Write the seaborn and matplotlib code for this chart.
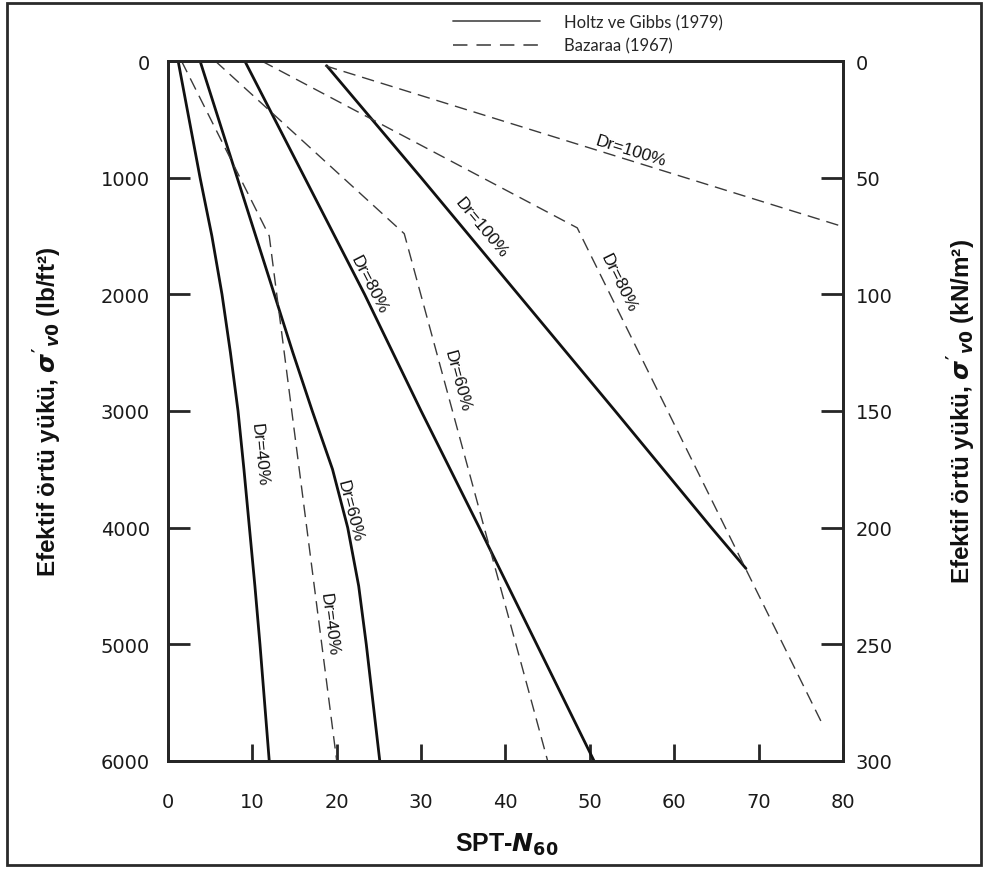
import numpy as np
import pandas as pd
import matplotlib
matplotlib.use("Agg")
import matplotlib.pyplot as plt
import seaborn as sns
from matplotlib.lines import Line2D
from matplotlib.patches import Rectangle

# ---------------- data ----------------
# Holtz & Gibbs (1979) - solid curves: effective stress (lb/ft2) vs SPT-N60
hg40_s = [0, 500, 1000, 1500, 2000, 2500, 3000, 3500, 4000, 4500, 5000, 5500, 6000]
hg40_n = [1.2, 2.5, 3.8, 5.2, 6.4, 7.4, 8.3, 9.0, 9.65, 10.3, 10.9, 11.45, 12.0]
hg60_s = [0, 1000, 2000, 2500, 3000, 3500, 4000, 4500, 5000, 5500, 6000]
hg60_n = [3.8, 8.2, 12.6, 14.8, 17.1, 19.5, 21.3, 22.6, 23.5, 24.3, 25.1]
hg80_s = [0, 1000, 2000, 3000, 4000, 5000, 6000]
hg80_n = [9.1, 16.2, 23.3, 30.0, 36.9, 43.7, 50.5]
hg100_s = [40, 1000, 2000, 3000, 4000, 4350]
hg100_n = [18.8, 30.0, 41.5, 53.0, 64.4, 68.5]

# Bazaraa (1967) - dashed curves
bz40_s = [0, 1500, 6000]
bz40_n = [1.6, 12.0, 20.0]
bz60_s = [0, 1480, 6000]
bz60_n = [5.6, 28.0, 45.0]
bz80_s = [0, 1430, 5690]
bz80_n = [11.1, 48.5, 77.6]
bz100_s = [40, 1420]
bz100_n = [18.6, 80.0]

curve_names = ["HG40", "HG60", "HG80", "HG100", "BZ40", "BZ60", "BZ80", "BZ100"]
curve_source = ["Holtz ve Gibbs (1979)"] * 4 + ["Bazaraa (1967)"] * 4
curve_labels = ["Dr=40%", "Dr=60%", "Dr=80%", "Dr=100%"] * 2
curve_s = [hg40_s, hg60_s, hg80_s, hg100_s, bz40_s, bz60_s, bz80_s, bz100_s]
curve_n = [hg40_n, hg60_n, hg80_n, hg100_n, bz40_n, bz60_n, bz80_n, bz100_n]

x_ticks = [0, 10, 20, 30, 40, 50, 60, 70, 80]
y_ticks_left = [0, 1000, 2000, 3000, 4000, 5000, 6000]
y_ticks_right = [0, 50, 100, 150, 200, 250, 300]

# label anchor positions (N, stress) for the "Dr=..." annotations
label_pos = {
    "HG40": (10.8, 3369), "HG60": (21.6, 3850), "HG80": (23.8, 1911), "HG100": (37.1, 1423),
    "BZ40": (19.1, 4826), "BZ60": (34.3, 2734), "BZ80": (53.4, 1894), "BZ100": (54.9, 771),
}

rows = []
for name, src, s_list, n_list in zip(curve_names, curve_source, curve_s, curve_n):
    for s, n in zip(s_list, n_list):
        rows.append({"curve": name, "source": src, "stress": s, "N": n})
df = pd.DataFrame(rows)

# ---------------- style ----------------
sns.set_style("white")
plt.rcParams["font.family"] = ["DejaVu Sans"]
plt.rcParams["mathtext.fontset"] = "custom"
plt.rcParams["mathtext.it"] = "DejaVu Sans:italic:bold"
plt.rcParams["mathtext.rm"] = "DejaVu Sans:bold"
plt.rcParams["mathtext.bf"] = "DejaVu Sans:bold"

W, H = 987, 870
fig = plt.figure(figsize=(W / 100, H / 100), dpi=100)
ax = fig.add_axes([168 / W, 1 - 762 / H, 675 / W, 700 / H])

sns.lineplot(
    data=df, x="N", y="stress", units="curve", estimator=None, sort=False,
    style="source", size="source",
    dashes={"Holtz ve Gibbs (1979)": "", "Bazaraa (1967)": (9, 5)},
    sizes={"Holtz ve Gibbs (1979)": 2.0, "Bazaraa (1967)": 1.0},
    color="#111111", legend=False, ax=ax,
)
for ln in ax.get_lines():
    if ln.get_linewidth() < 1.5:
        ln.set_color("#3a3a3a")
    else:
        ln.set_solid_joinstyle("round")

ax.set_xlim(0, 80)
ax.set_ylim(6000, 0)
ax.set_xticks(x_ticks)
ax.set_yticks(y_ticks_left)
ax.set_xlabel("")
ax.set_ylabel("")

spine_c = "#262626"
for sp in ax.spines.values():
    sp.set_linewidth(2.0)
    sp.set_color(spine_c)
    sp.set_visible(True)

ax.tick_params(axis="x", direction="in", length=12, width=2.0, color=spine_c,
               labelsize=14, pad=22, labelcolor="#1a1a1a", top=False, bottom=True)
ax.tick_params(axis="y", direction="in", length=16, width=2.0, color=spine_c,
               labelsize=14, pad=13, labelcolor="#1a1a1a", left=True)

ax2 = ax.twinx()
ax2.set_ylim(300, 0)
ax2.set_yticks(y_ticks_right)
ax2.tick_params(axis="y", direction="in", length=16, width=2.0, color=spine_c,
                labelsize=14, pad=9, labelcolor="#1a1a1a")
for sp in ax2.spines.values():
    sp.set_linewidth(2.0)
    sp.set_color(spine_c)

label_font = ["Liberation Sans"]
ax.text(-0.178, 0.5, "Efektif örtü yükü, $\\sigma'_{v0}$ (lb/ft²)", transform=ax.transAxes,
        rotation=90, ha="center", va="center", fontsize=17.5, fontweight="bold",
        family=label_font, color="#111111")
ax.text(1.176, 0.5, "Efektif örtü yükü, $\\sigma'_{v0}$ (kN/m²)", transform=ax.transAxes,
        rotation=90, ha="center", va="center", fontsize=17.5, fontweight="bold",
        family=label_font, color="#111111")
ax.text(0.502, -0.119, "SPT-$N_{60}$", transform=ax.transAxes, ha="center", va="center",
        fontsize=18, fontweight="bold", family=label_font, color="#111111")

# ---------------- curve annotations ----------------
def local_angle(xs, ys, yq):
    for i in range(len(ys) - 1):
        if ys[i] <= yq <= ys[i + 1]:
            break
    p1 = ax.transData.transform((xs[i], ys[i]))
    p2 = ax.transData.transform((xs[i + 1], ys[i + 1]))
    ang = np.degrees(np.arctan2(p2[1] - p1[1], p2[0] - p1[0]))
    if ang > 90:
        ang -= 180
    if ang < -90:
        ang += 180
    return ang

for name, lab, s_list, n_list in zip(curve_names, curve_labels, curve_s, curve_n):
    nx, sy = label_pos[name]
    rot = local_angle(n_list, s_list, min(max(sy, s_list[0]), s_list[-1]))
    ax.text(nx, sy, lab, rotation=rot, rotation_mode="anchor", ha="center", va="center",
            fontsize=12.5, family=["Liberation Sans"], color="#111111")

# ---------------- legend ----------------
handles = [Line2D([], [], color="#555555", lw=1.3),
           Line2D([], [], color="#555555", lw=1.3, dashes=(8, 5))]
fig.legend(handles, ["Holtz ve Gibbs (1979)", "Bazaraa (1967)"],
           loc="center left", bbox_to_anchor=(453 / W, 1 - 35 / H), frameon=False,
           borderpad=0, borderaxespad=0, handlelength=5.2, handletextpad=1.45,
           labelspacing=0.45, prop={"family": "Lato", "size": 12})

# outer frame
fig.patches.append(Rectangle((7 / W, 4 / H), (981 - 7) / W, (866 - 4) / H,
                             transform=fig.transFigure, fill=False, lw=2.0,
                             ec="#2a2a2a"))

fig.savefig("out.png", dpi=100)
